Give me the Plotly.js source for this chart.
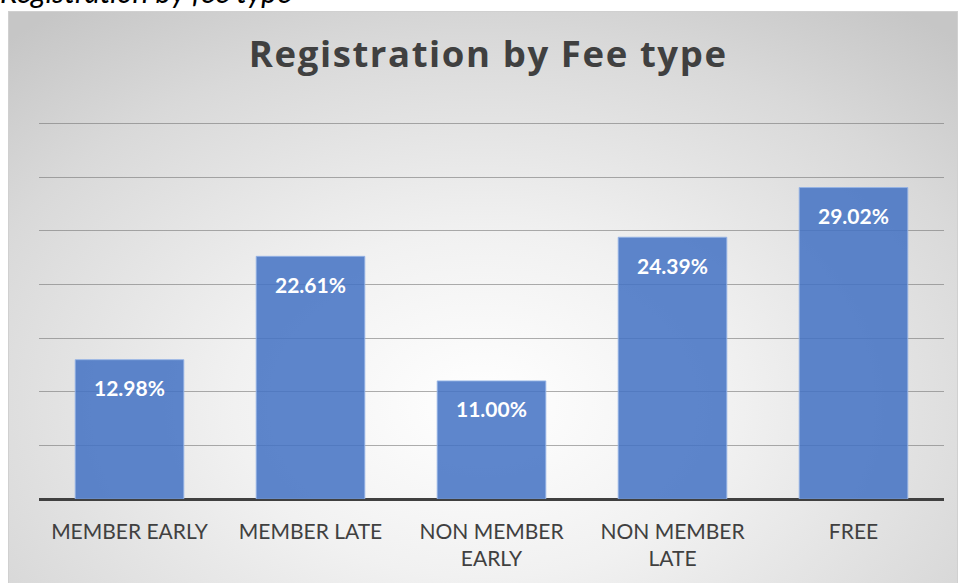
<!DOCTYPE html>
<html>
<head>
<meta charset="utf-8">
<script src="https://cdn.plot.ly/plotly-3.0.1.min.js"></script>
<style>
  html, body { margin: 0; padding: 0; background: #ffffff; overflow: hidden; }
  #wrap { position: relative; width: 961px; height: 583px; overflow: hidden; }
  #bg {
    position: absolute; left: 8px; top: 11px; width: 950px; height: 580px;
    border: 1px solid #d0d0d0; box-sizing: border-box;
    background: radial-gradient(ellipse 75% 85% at 50% 68%, #ffffff 0%, #f1f1f1 35%, #d9d9d9 75%, #c6c6c6 100%);
  }
  #chart { position: absolute; left: 0; top: 0; width: 961px; height: 583px; }
  #caption {
    position: absolute; left: 0px; top: -24px; margin: 0;
    font-family: Lato, sans-serif; font-style: italic; font-size: 30px; line-height: 30px;
    color: #000000; white-space: nowrap;
  }
  #chart .gtitle { letter-spacing: 1.6px; }
</style>
</head>
<body>
<div id="wrap">
  <div id="bg"></div>
  <div id="chart"></div>
  <p id="caption"></p>
</div>
<script>
const categories = ["MEMBER EARLY", "MEMBER LATE", "NON MEMBER<br>EARLY", "NON MEMBER<br>LATE", "FREE"];
const values = [12.98, 22.61, 11.00, 24.39, 29.02];
const labels = ["12.98%", "22.61%", "11.00%", "24.39%", "29.02%"];
const chartTitle = "Registration by Fee type";
const caption = "Registration by fee type";

document.getElementById("caption").textContent = caption;

const FONT = "Lato, 'Open Sans', sans-serif";

const trace = {
  type: "bar",
  x: categories,
  y: values,
  marker: {
    color: "rgba(68,114,196,0.86)",
    line: { color: "rgba(150,180,230,0.9)", width: 1 }
  },
  hoverinfo: "none",
  width: 0.6
};

const annotations = categories.map((c, i) => ({
  x: c, y: values[i], xref: "x", yref: "y",
  text: "<b>" + labels[i] + "</b>",
  showarrow: false, yanchor: "middle", yshift: -28,
  font: { family: FONT, size: 21, color: "#ffffff" }
}));

const layout = {
  width: 961, height: 583,
  margin: { l: 39, r: 17, t: 118, b: 84, pad: 0 },
  paper_bgcolor: "rgba(0,0,0,0)",
  plot_bgcolor: "rgba(0,0,0,0)",
  title: {
    text: "<b>" + chartTitle + "</b>",
    font: { family: "'Open Sans', sans-serif", size: 36.5, color: "#404040" },
    x: 0.508, xanchor: "center",
    y: 1 - 67 / 583, yanchor: "bottom", yref: "container"
  },
  showlegend: false,
  bargap: 0.4,
  xaxis: {
    type: "category",
    tickfont: { family: FONT, size: 21, color: "#404040" },
    ticks: "", showgrid: false, zeroline: false,
    showline: false, fixedrange: true,
    ticklabelstandoff: 18
  },
  yaxis: {
    range: [0, 35.5], tickmode: "linear", tick0: 0, dtick: 5,
    showticklabels: false, ticks: "",
    showgrid: true, gridcolor: "rgba(115,115,115,0.58)", gridwidth: 1,
    zeroline: true, zerolinecolor: "#404040", zerolinewidth: 3,
    showline: false, fixedrange: true
  },
  annotations: annotations
};

Plotly.newPlot("chart", [trace], layout, { displayModeBar: false, staticPlot: true });
</script>
</body>
</html>
